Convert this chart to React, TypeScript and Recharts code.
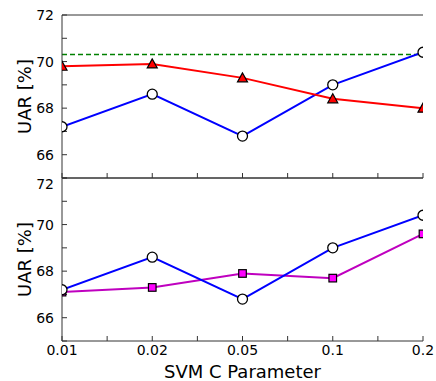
import React from 'react';
import { LineChart, Line, XAxis, YAxis, ReferenceLine } from 'recharts';

const categories = ['0.01', '0.02', '0.05', '0.1', '0.2'];
const topBlue = [67.2, 68.6, 66.8, 69.0, 70.4];
const topRed = [69.8, 69.9, 69.3, 68.4, 68.0];
const topBaseline = 70.3;
const bottomBlue = [67.2, 68.6, 66.8, 69.0, 70.4];
const bottomMagenta = [67.1, 67.3, 67.9, 67.7, 69.6];
const yTicks = [65, 66, 67, 68, 69, 70, 71, 72];
const xTicks = [0, 0.5, 1, 1.5, 2, 2.5, 3, 3.5, 4];

const topData = categories.map((c, i) => ({ idx: i, cat: c, blue: topBlue[i], red: topRed[i] }));
const bottomData = categories.map((c, i) => ({ idx: i, cat: c, blue: bottomBlue[i], magenta: bottomMagenta[i] }));

const FONT = 'DejaVu Sans, sans-serif';
const AX = '#333';

const yFmt = (v: number) => (v % 2 === 0 ? String(v) : '');
const xFmt = (v: number) => (Number.isInteger(v) ? categories[v] : '');

const Circle = (p: any) => (
  <circle key={`c${p.index}`} cx={p.cx} cy={p.cy} r={5} fill="#fff" stroke="#000" strokeWidth={1.3} />
);
const Triangle = (p: any) => {
  const s = 5;
  const pts = `${p.cx},${p.cy - s} ${p.cx - s},${p.cy + s * 0.8} ${p.cx + s},${p.cy + s * 0.8}`;
  return <polygon key={`t${p.index}`} points={pts} fill="#ff0000" stroke="#000" strokeWidth={1.2} />;
};
const Square = (p: any) => (
  <rect key={`s${p.index}`} x={p.cx - 3.8} y={p.cy - 3.8} width={7.6} height={7.6} fill="#ff00ff" stroke="#000" strokeWidth={1.2} />
);

const yLabel = (props: any) => {
  const vb = props.viewBox;
  const cx = 24;
  const cy = vb.y + vb.height / 2;
  return (
    <text x={cx} y={cy} transform={`rotate(-90 ${cx} ${cy})`} textAnchor="middle" dominantBaseline="central" fontSize={18} fontFamily={FONT} fill="#000">
      UAR [%]
    </text>
  );
};

const tickStyle = { fontSize: 14, fontFamily: FONT, fill: '#000' };

function Panel({ data, height, bottomLabels, children }: any) {
  return (
    <LineChart
      width={436}
      height={height}
      data={data}
      margin={{ top: bottomLabels ? 0 : 13, right: 13, bottom: 0, left: 18 }}
    >
      <XAxis
        dataKey="idx"
        type="number"
        domain={[0, 4]}
        ticks={xTicks}
        tickFormatter={bottomLabels ? xFmt : () => ''}
        tickSize={-5}
        tickMargin={9}
        height={bottomLabels ? 40 : 2}
        stroke={AX}
        tick={tickStyle}
        allowDataOverflow
        label={bottomLabels ? { value: 'SVM C Parameter', position: 'insideBottom', offset: 3, fontSize: 18, fontFamily: FONT, fill: '#000' } : undefined}
      />
      <XAxis
        xAxisId="top"
        orientation="top"
        type="number"
        domain={[0, 4]}
        ticks={xTicks}
        height={2}
        tickFormatter={() => ''}
        tickLine={false}
        stroke={AX}
      />
      <YAxis
        type="number"
        domain={[65, 72]}
        ticks={yTicks}
        tickFormatter={yFmt}
        tickSize={-5}
        tickMargin={13}
        width={44}
        stroke={AX}
        tick={tickStyle}
        allowDataOverflow
        label={{ content: yLabel }}
      />
      <YAxis
        yAxisId="right"
        orientation="right"
        type="number"
        domain={[65, 72]}
        ticks={yTicks}
        tickFormatter={() => ''}
        tickSize={-5}
        width={0}
        stroke={AX}
      />
      {children}
    </LineChart>
  );
}

export default function App() {
  return (
    <div style={{ position: 'absolute', left: 0, top: 0, width: 436, height: 381, background: '#fff' }}>
      <div style={{ position: 'absolute', left: 0, top: 0 }}>
        <Panel data={topData} height={180} bottomLabels={false}>
          <ReferenceLine y={topBaseline} stroke="#008000" strokeWidth={1.5} strokeDasharray="5 3" />
          <Line dataKey="blue" stroke="#0000ff" strokeWidth={2} dot={Circle} isAnimationActive={false} />
          <Line dataKey="red" stroke="#ff0000" strokeWidth={2} dot={Triangle} isAnimationActive={false} />
        </Panel>
      </div>
      <div style={{ position: 'absolute', left: 0, top: 176 }}>
        <Panel data={bottomData} height={205} bottomLabels={true}>
          <Line dataKey="magenta" stroke="#bf00bf" strokeWidth={2} dot={Square} isAnimationActive={false} />
          <Line dataKey="blue" stroke="#0000ff" strokeWidth={2} dot={Circle} isAnimationActive={false} />
        </Panel>
      </div>
    </div>
  );
}
